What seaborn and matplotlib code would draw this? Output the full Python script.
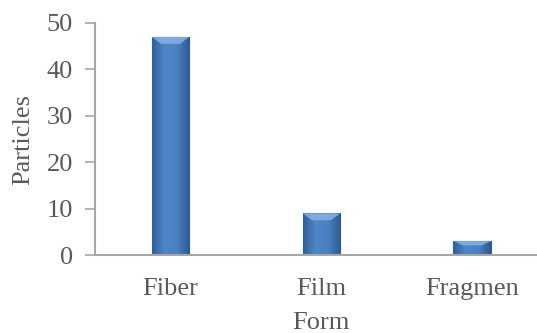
import seaborn as sns
import pandas as pd
import numpy as np
import matplotlib.pyplot as plt
from matplotlib.colors import LinearSegmentedColormap

forms = ['Fiber', 'Film', 'Fragmen']
particles = [47, 9, 3]

df = pd.DataFrame({'Form': forms, 'Particles': particles})

sns.set_style('white')
plt.rcParams['font.family'] = ['Liberation Serif', 'DejaVu Serif']

grey = '#595959'
fig = plt.figure(figsize=(5.37, 3.33), dpi=100)
ax = fig.add_axes([0.177, 0.234, 0.843, 0.697])
sns.barplot(data=df, x='Form', y='Particles', color='#4a7ebb', width=0.25,
            edgecolor='#2f5d92', linewidth=0.8, ax=ax)

# bevel-ish shading on each bar
cmap = LinearSegmentedColormap.from_list('bev', ['#2f5f98', '#4f86c8', '#4b80c0', '#2c5a92'])
grad = np.linspace(0, 1, 64).reshape(1, -1)
for p in ax.patches:
    x0, y0 = p.get_x(), p.get_y()
    w, h = p.get_width(), p.get_height()
    im = ax.imshow(grad, cmap=cmap, aspect='auto', extent=[x0, x0 + w, y0, y0 + h],
                   zorder=p.get_zorder() + 0.1)
    im.set_clip_path(p)
    # light top facet
    d = min(1.5, h * 0.3)
    ax.fill([x0, x0 + w, x0 + w - w * 0.25, x0 + w * 0.25], [y0 + h, y0 + h, y0 + h - d, y0 + h - d],
            color='#8db4e6', alpha=0.8, zorder=p.get_zorder() + 0.2, lw=0)
ax.set_xlim(-0.5, 2.5)
ax.set_ylim(0, 50)
ax.set_yticks([0, 10, 20, 30, 40, 50])

for s in ['top', 'right']:
    ax.spines[s].set_visible(False)
for s in ['left', 'bottom']:
    ax.spines[s].set_color('#a6a6a6')
    ax.spines[s].set_linewidth(1.5)

ax.tick_params(axis='y', left=True, length=7, width=1.2, color='#a6a6a6',
               labelsize=19, labelcolor=grey, pad=9)
ax.tick_params(axis='x', bottom=False, labelsize=19, labelcolor=grey, pad=13)
ax.set_xlabel('Form', fontsize=19, color=grey, labelpad=9)
ax.set_ylabel('Particles', fontsize=19, color=grey, labelpad=9)

fig.savefig('out.png', dpi=100)
